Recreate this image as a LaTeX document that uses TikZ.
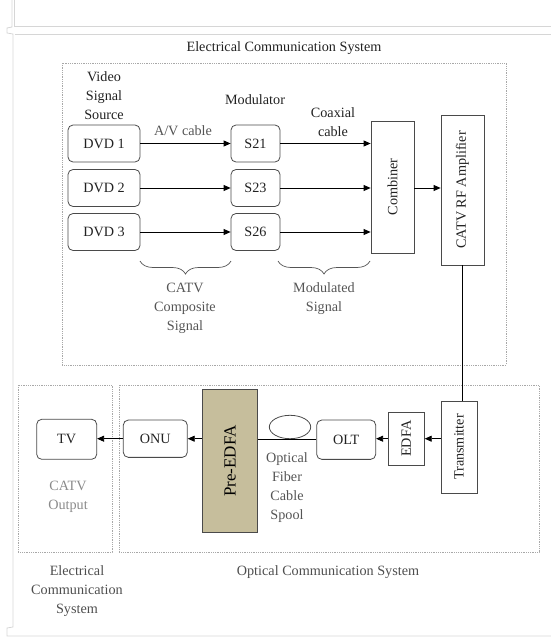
\documentclass[tikz,border=0pt]{standalone}
\usepackage{fontspec}
\setmainfont{Liberation Serif}
\usetikzlibrary{arrows.meta,decorations.pathreplacing,shapes.geometric}
\definecolor{framec}{HTML}{D6D6D6}
\definecolor{dotc}{HTML}{A8A8A8}
\definecolor{boxc}{HTML}{4A4A4A}
\definecolor{txtc}{HTML}{222222}
\definecolor{graytxt}{HTML}{555555}
\definecolor{lighttxt}{HTML}{8A8A8A}
\definecolor{tan}{HTML}{C6BE9C}
\begin{document}
\begin{tikzpicture}[x=1pt,y=-1pt,
  every node/.style={font=\fontsize{14.2}{19}\selectfont, text=txtc, inner sep=0pt},
  rbox/.style={draw=boxc, line width=0.8pt, rounded corners=5pt},
  sbox/.style={draw=boxc, line width=0.8pt},
  region/.style={draw=dotc, line width=0.8pt, densely dotted},
  conn/.style={draw=black, line width=0.8pt},
  arr/.style={conn, -{Triangle[length=7pt,width=6pt]}},
  brc/.style={draw=graytxt, line width=0.7pt, decorate, decoration={brace, mirror, amplitude=13pt}},
  lbl/.style={align=center, text=graytxt},
  lbllight/.style={align=center, text=lighttxt}
]
\useasboundingbox (0,0) rectangle (551,637);
% page frame
\draw[framec, line width=0.8pt] (12,0) -- (12,27) -- (7,28) -- (7,33) -- (13,34) -- (13,627) -- (7,628) -- (7,636) -- (551,636);
\draw[framec, line width=0.8pt] (14.5,0) -- (14.5,26) -- (551,26);
\draw[framec, line width=0.8pt] (14.5,34) -- (551,34);
% regions
\draw[region] (62,63) rectangle (506,365);
\draw[region] (18,385) rectangle (112,552);
\draw[region] (119,385) rectangle (539,552);
\node (ectitle) at (284,48) {Electrical Communication System};
\node[lbl, text=txtc] (vss) at (104,96) {Video\\Signal\\Source};
\node (modlbl) at (255,100) {Modulator};
\node[lbl, text=txtc] (coax) at (333,122.5) {Coaxial\\cable};
% sources
\node[rbox, minimum width=72pt, minimum height=37pt] (dvd1) at (104,143.5) {DVD 1};
\node[rbox, minimum width=72pt, minimum height=37pt] (dvd2) at (104,188) {DVD 2};
\node[rbox, minimum width=72pt, minimum height=37pt] (dvd3) at (104,232) {DVD 3};
\node[rbox, minimum width=49pt, minimum height=37pt] (s21) at (255.5,143.5) {S21};
\node[rbox, minimum width=49pt, minimum height=37pt] (s23) at (255.5,188) {S23};
\node[rbox, minimum width=49pt, minimum height=37pt] (s26) at (255.5,232) {S26};
\node[sbox, minimum width=43pt, minimum height=132pt, label={[rotate=90]center:Combiner}] (comb) at (392.5,187) {};
\node[sbox, minimum width=43pt, minimum height=150pt, label={[rotate=90]center:CATV RF Amplifier}] (amp) at (462.5,190) {};
\node[lbl] (avlbl) at (183,131) {A/V cable};
% arrows
\draw[arr] (dvd1) -- (s21);
\draw[arr] (dvd2) -- (s23);
\draw[arr] (dvd3) -- (s26);
\draw[arr] (s21.east) -- (s21.east -| comb.west);
\draw[arr] (s23.east) -- (s23.east -| comb.west);
\draw[arr] (s26.east) -- (s26.east -| comb.west);
\draw[arr] (comb.east |- 0,188) -- (amp.west |- 0,188);
% braces
\coordinate (b1a) at (140,261);
\coordinate (b1b) at (231,261);
\coordinate (b2a) at (278,261);
\coordinate (b2b) at (370,261);
\draw[brc] (b1a) -- (b1b);
\draw[brc] (b2a) -- (b2b);
\node[lbl] (catvcomp) at (185,308.5) {CATV\\Composite\\Signal};
\node[lbl] (modsig) at (324,299) {Modulated\\Signal};
% optical part
\node[sbox, minimum width=36pt, minimum height=92pt, label={[rotate=90]center:Transmitter}] (trans) at (459,447) {};
\node[sbox, minimum width=36pt, minimum height=52.7pt, label={[rotate=90]center:EDFA}] (edfa) at (406.3,438.7) {};
\node[rbox, minimum width=59pt, minimum height=39.3pt] (olt) at (346.2,439.7) {OLT};
\node[draw=boxc, line width=0.8pt, ellipse, minimum width=41.4pt, minimum height=23.4pt] (spool) at (290,427) {};
\node[sbox, fill=tan, minimum width=55.4pt, minimum height=143.4pt, label={[rotate=90, font=\fontsize{17}{19}\selectfont, text=black]center:Pre-EDFA}] (pre) at (230,461) {};
\node[rbox, minimum width=64pt, minimum height=37.3pt] (onu) at (155.3,438.7) {ONU};
\node[rbox, minimum width=60pt, minimum height=40pt] (tv) at (66.7,439.3) {TV};
\draw[conn] (amp.south) -- (amp.south |- trans.north);
\draw[arr] (edfa.east -| trans.west) -- (edfa.east);
\draw[arr] (edfa.west) -- (edfa.west -| olt.east);
\draw[conn] (olt.west |- 0,439.3) -- (pre.east |- 0,439.3);
\draw[arr] (pre.west |- onu.east) -- (onu.east);
\draw[arr] (onu.west) -- (onu.west -| tv.east);
\node[lbl] (ofcs) at (287,487.5) {Optical\\Fiber\\Cable\\Spool};
\node[lbllight] (catvout) at (68,496.5) {CATV\\Output};
\node[lbl, text=txtc!80] (ecs) at (77,591) {Electrical\\Communication\\System};
\node[text=txtc!80] (ocs) at (328,572) {Optical Communication System};
\end{tikzpicture}
\end{document}
